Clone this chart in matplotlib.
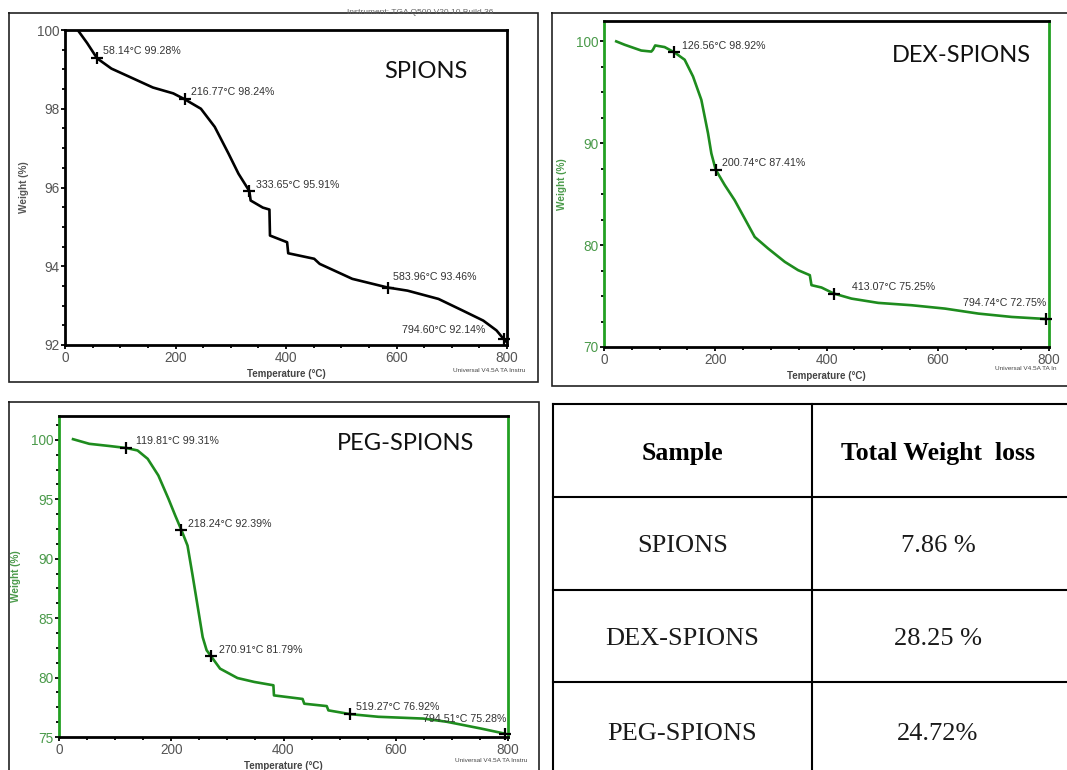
import matplotlib
matplotlib.use("Agg")
import matplotlib.pyplot as plt
from matplotlib.ticker import MultipleLocator

# ---- data ----
spions_temp = [23, 40, 58.14, 84, 120, 159, 196, 216.77, 246, 271, 296, 314, 333.65, 336,
               358, 370, 371, 402, 404, 451, 461, 520, 583.96, 620, 676, 719, 757, 781, 794.6, 799]
spions_weight = [100, 99.67, 99.28, 99.02, 98.79, 98.54, 98.39, 98.24, 98.0, 97.54, 96.86, 96.35, 95.91, 95.67,
                 95.49, 95.44, 94.78, 94.61, 94.33, 94.19, 94.06, 93.68, 93.46, 93.38, 93.17, 92.88, 92.62, 92.37, 92.14, 92.08]
spions_mark_t = [58.14, 216.77, 333.65, 583.96, 794.60]
spions_mark_w = [99.28, 98.24, 95.91, 93.46, 92.14]

dex_temp = [22, 37, 67, 85, 88, 92, 109, 126.56, 145, 160, 175, 187, 193, 200.74, 217, 235, 253, 271,
            295, 325, 349, 370, 373, 391, 413.07, 445, 493, 553, 613, 673, 733, 794.74]
dex_weight = [100.0, 99.67, 99.1, 99.0, 99.18, 99.6, 99.44, 98.92, 98.2, 96.56, 94.26, 90.98, 89.0, 87.41,
              85.9, 84.4, 82.6, 80.8, 79.67, 78.36, 77.54, 77.05, 76.07, 75.84, 75.25, 74.75, 74.33, 74.1,
              73.77, 73.28, 72.95, 72.75]
dex_mark_t = [126.56, 200.74, 413.07, 794.74]
dex_mark_w = [98.92, 87.41, 75.25, 72.75]

peg_temp = [25, 54, 91, 119.81, 140, 158, 177, 195, 207, 218.24, 229, 238, 247, 256, 263, 270.91, 287, 318,
            348, 382, 383, 434, 437, 477, 480, 519.27, 569, 649, 691, 753, 794.51]
peg_weight = [100.05, 99.66, 99.47, 99.31, 99.1, 98.4, 97.0, 95.04, 93.64, 92.39, 91.1, 88.6, 86.0, 83.4,
              82.3, 81.79, 80.75, 79.96, 79.63, 79.35, 78.5, 78.2, 77.8, 77.6, 77.24, 76.92, 76.7, 76.55,
              76.28, 75.7, 75.28]
peg_mark_t = [119.81, 218.24, 270.91, 519.27, 794.51]
peg_mark_w = [99.31, 92.39, 81.79, 76.92, 75.28]

panel_titles = ["SPIONS", "DEX-SPIONS", "PEG-SPIONS"]
table_header = ["Sample", "Total Weight  loss"]
table_samples = ["SPIONS", "DEX-SPIONS", "PEG-SPIONS"]
table_losses = ["7.86 %", "28.25 %", "24.72%"]

W, H = 1067, 770
GREEN = "#1e8c1e"
SPINE_GREEN = "#22a022"
TICK_GRAY = "#555555"

fig = plt.figure(figsize=(W / 100, H / 100), dpi=100)
fig.patch.set_facecolor("white")

# overlay in pixel coords for frames and the table
ov = fig.add_axes([0, 0, 1, 1], zorder=-1)
ov.set_xlim(0, W)
ov.set_ylim(H, 0)
ov.axis("off")


def px_axes(l, t, r, b):
    ax = fig.add_axes([l / W, 1 - b / H, (r - l) / W, (b - t) / H])
    ax.patch.set_alpha(0)
    return ax


def frame(l, t, r, b, lw=1.2):
    ov.plot([l, r, r, l, l], [t, t, b, b, t], color="#222222", lw=lw, solid_joinstyle="miter")


def tga(ax, temp, weight, mt, mw, offsets, color, side_color, ylim, ymaj, ytick_color,
        ylab_x):
    ax.plot(temp, weight, color=color, lw=1.9)
    ax.plot(mt, mw, "+", color="black", ms=9, mew=1.6, clip_on=False, zorder=5)
    for t, w, (dx, dy, ha) in zip(mt, mw, offsets):
        ax.annotate(f"{t:.2f}°C {w:.2f}%", (t, w), xytext=(dx * 0.72, dy * 0.72),
                    textcoords="offset points", ha=ha, va="center", fontsize=7.7,
                    color="#333333", family="Liberation Sans")
    ax.set_xlim(0, 800)
    ax.set_ylim(*ylim)
    ax.xaxis.set_major_locator(MultipleLocator(200))
    ax.xaxis.set_minor_locator(MultipleLocator(50))
    ax.yaxis.set_major_locator(MultipleLocator(ymaj))
    ax.yaxis.set_minor_locator(MultipleLocator(ymaj / 4))
    for s in ["top", "bottom"]:
        ax.spines[s].set_color("black")
        ax.spines[s].set_linewidth(2)
    for s in ["left", "right"]:
        ax.spines[s].set_color(side_color)
        ax.spines[s].set_linewidth(2)
    ax.tick_params(which="major", direction="out", length=3, width=1.3, pad=1,
                   labelsize=9.8, colors="black")
    ax.tick_params(which="minor", direction="out", length=2, width=1.3)
    ax.tick_params(axis="x", labelcolor=TICK_GRAY)
    ax.tick_params(axis="y", labelcolor=ytick_color)
    for lab in ax.get_xticklabels() + ax.get_yticklabels():
        lab.set_family("Liberation Sans")
    ax.set_xlabel("Temperature (°C)", fontsize=7, fontweight="bold", color="#444444",
                  family="Liberation Sans")
    ax.xaxis.set_label_coords(0.5, -0.075)
    ax.set_ylabel("Weight (%)", fontsize=7.2, fontweight="bold", color=ytick_color,
                  family="Liberation Sans")
    ax.yaxis.set_label_coords(ylab_x, 0.5)


def title(x, y, s):
    fig.text(x / W, 1 - y / H, s, fontsize=17, family="Lato", va="center", ha="left",
             color="#111111")


# ---- panel 1: SPIONS ----
frame(9, 13, 538, 382)
ax1 = px_axes(65, 30, 507, 345)
tga(ax1, spions_temp, spions_weight, spions_mark_t, spions_mark_w,
    [(6, 7.5, "left"), (6, 7, "left"), (7, 6, "left"), (5, 10.5, "left"), (-19, 9, "right")],
    "black", "black", (92, 100), 2, TICK_GRAY, -0.082)
title(384, 72, panel_titles[0])
ov.text(347, 12, "Instrument: TGA Q500 V20.10 Build 36", fontsize=6, color="#666666",
        va="center", ha="left", family="Liberation Sans")
ov.text(453, 370, "Universal V4.5A TA Instru", fontsize=4.6, color="#444444", va="center",
        ha="left", family="Liberation Sans")

# ---- panel 2: DEX-SPIONS ----
frame(552, 13, 1075, 386)
ax2 = px_axes(604, 21, 1049, 347)
tga(ax2, dex_temp, dex_weight, dex_mark_t, dex_mark_w,
    [(8, 6, "left"), (6, 7, "left"), (18, 7, "left"), (0, 16, "right")],
    GREEN, SPINE_GREEN, (70, 102), 10, "#4a9a4a", -0.083)
title(892, 55, panel_titles[1])
ov.text(995, 369, "Universal V4.5A TA In", fontsize=4.6, color="#444444", va="center",
        ha="left", family="Liberation Sans")

# ---- panel 3: PEG-SPIONS ----
frame(9, 402, 539, 790)
ax3 = px_axes(59, 416, 508, 737)
tga(ax3, peg_temp, peg_weight, peg_mark_t, peg_mark_w,
    [(10, 6.7, "left"), (7, 6, "left"), (8, 6.7, "left"), (6, 6.7, "left"), (1, 15, "right")],
    GREEN, SPINE_GREEN, (75, 102), 5, "#4a9a4a", -0.085)
title(337, 444, panel_titles[2])
ov.text(455, 760, "Universal V4.5A TA Instru", fontsize=4.6, color="#444444", va="center",
        ha="left", family="Liberation Sans")

# ---- table ----
tl, tm, tr = 553, 812, 1072
rows_y = [404, 497, 590, 682, 780]
for y in rows_y[:-1]:
    ov.plot([tl, tr], [y, y], color="black", lw=1.5)
for x in [tl, tm]:
    ov.plot([x, x], [rows_y[0], rows_y[-1]], color="black", lw=1.5)
c1, c2 = (tl + tm) / 2, (tm + tr) / 2 - 4
ov.text(c1, (rows_y[0] + rows_y[1]) / 2 + 3, table_header[0], ha="center", va="center",
        fontsize=18.5, fontweight="bold", family="Liberation Serif")
ov.text(c2, (rows_y[0] + rows_y[1]) / 2 + 3, table_header[1], ha="center", va="center",
        fontsize=18.5, fontweight="bold", family="Liberation Serif")
for i, (s, v) in enumerate(zip(table_samples, table_losses)):
    yc = (rows_y[i + 1] + rows_y[i + 2]) / 2 + 3
    ov.text(c1, yc, s, ha="center", va="center", fontsize=19, family="Liberation Serif",
            color="#1a1a1a")
    ov.text(c2, yc, v, ha="center", va="center", fontsize=19, family="Liberation Serif",
            color="#1a1a1a")

fig.savefig("out.png", dpi=100)
